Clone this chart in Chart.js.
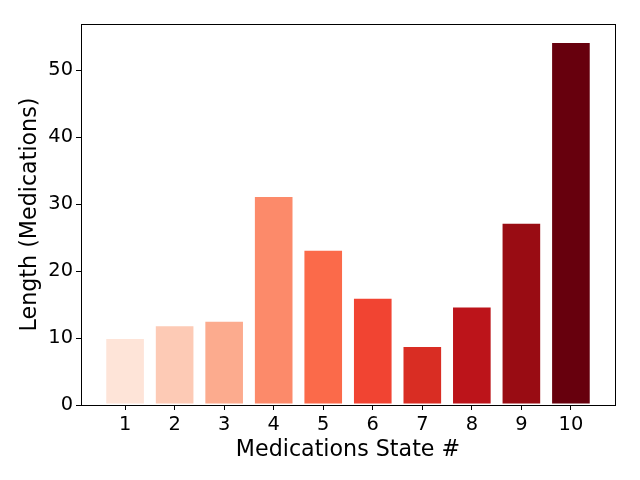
<!DOCTYPE html>
<html>
<head>
<meta charset="utf-8">
<script src="https://cdn.jsdelivr.net/npm/chart.js@4"></script>
<style>
  body { margin: 0; background: #fff; }
</style>
</head>
<body>
<canvas id="chart" width="640" height="480"></canvas>
<script>
// Medication state numbers and lengths
const states = [1, 2, 3, 4, 5, 6, 7, 8, 9, 10];
const lengths = [10.0, 11.9, 12.6, 31.2, 23.2, 16.0, 8.8, 14.7, 27.2, 54.2];
const yTicks = [0, 10, 20, 30, 40, 50];

// Reds colormap, one shade per bar
const barColors = [
  '#fee4d8', '#fdcab5', '#fcab8e', '#fc8a6a', '#fb6a4a',
  '#f14432', '#d92d23', '#bc141a', '#990c13', '#67000d'
];

const font = 'DejaVu Sans';

// frame around the plot area, like matplotlib spines
const frame = {
  id: 'frame',
  afterDraw(chart) {
    const { ctx, chartArea: a } = chart;
    ctx.save();
    ctx.strokeStyle = '#000';
    ctx.lineWidth = 1;
    ctx.strokeRect(a.left + 0.5, a.top + 0.5, a.right - a.left, a.bottom - a.top);
    ctx.restore();
  }
};

new Chart(document.getElementById('chart'), {
  type: 'bar',
  data: {
    datasets: [{
      data: states.map((s, i) => ({ x: s, y: lengths[i] })),
      backgroundColor: barColors,
      borderColor: 'rgba(255,255,255,0.6)',
      borderWidth: 1,
      borderSkipped: false,
      barPercentage: 0.8,
      categoryPercentage: 1
    }]
  },
  options: {
    responsive: false,
    devicePixelRatio: 1,
    animation: false,
    layout: { padding: { top: 24, right: 25, left: 0, bottom: 0 } },
    plugins: { legend: { display: false }, tooltip: { enabled: false } },
    scales: {
      x: {
        type: 'linear',
        min: 0.11,
        max: 10.89,
        offset: false,
        afterFit(scale) { scale.height = 75; },
        afterBuildTicks(scale) { scale.ticks = states.map(v => ({ value: v })); },
        grid: { offset: false, drawOnChartArea: false, drawTicks: true, tickLength: 5, color: '#000' },
        border: { color: '#000' },
        ticks: { color: '#000', padding: 3, font: { family: font, size: 19.4 } },
        title: {
          display: true,
          text: 'Medications State #',
          color: '#000',
          font: { family: font, size: 22.2 },
          padding: { top: 0, bottom: 16 }
        }
      },
      y: {
        min: 0,
        max: 56.9,
        afterFit(scale) { scale.width = 81; },
        afterBuildTicks(scale) { scale.ticks = yTicks.map(v => ({ value: v })); },
        grid: { drawOnChartArea: false, drawTicks: true, tickLength: 5, color: '#000' },
        border: { color: '#000' },
        ticks: { color: '#000', padding: 3, font: { family: font, size: 19.4 } },
        title: {
          display: true,
          text: 'Length (Medications)',
          color: '#000',
          font: { family: font, size: 22.2 },
          padding: { top: 17, bottom: 0 }
        }
      }
    }
  },
  plugins: [frame]
});
</script>
</body>
</html>
